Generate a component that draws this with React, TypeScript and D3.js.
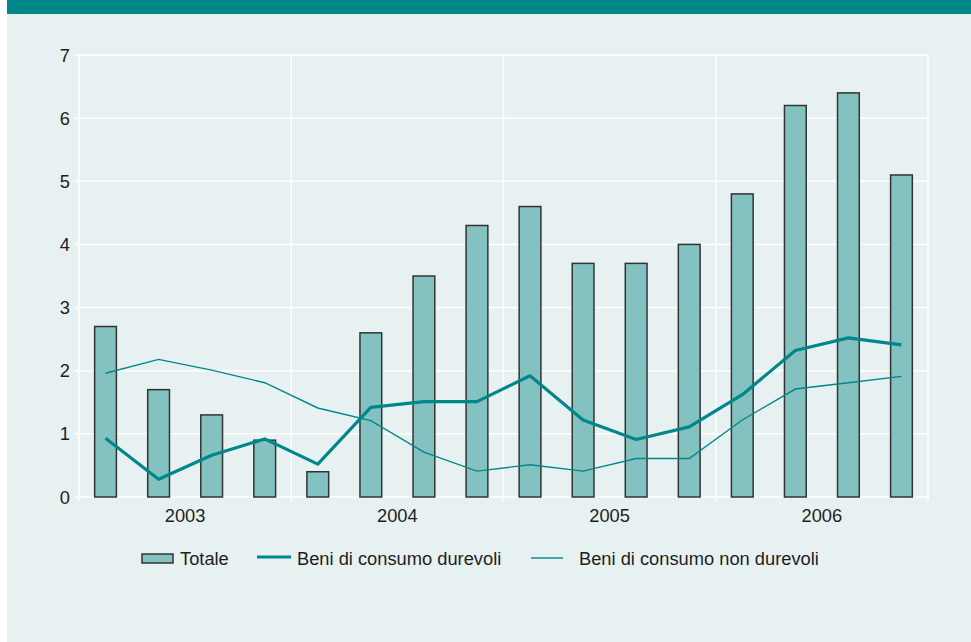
import React, { useEffect, useRef } from 'react';
import * as d3 from 'd3';

// quarters 2003 Q1 .. 2006 Q4
const years = ['2003', '2004', '2005', '2006'];
const quarters = d3.range(16).map((i) => `${years[Math.floor(i / 4)]}-Q${(i % 4) + 1}`);
const totale = [2.7, 1.7, 1.3, 0.9, 0.4, 2.6, 3.5, 4.3, 4.6, 3.7, 3.7, 4.0, 4.8, 6.2, 6.4, 5.1];
const durevoli = [0.93, 0.28, 0.66, 0.92, 0.52, 1.42, 1.51, 1.51, 1.92, 1.22, 0.91, 1.11, 1.62, 2.32, 2.52, 2.41];
const nonDurevoli = [1.96, 2.18, 2.01, 1.81, 1.41, 1.21, 0.71, 0.41, 0.51, 0.41, 0.61, 0.61, 1.22, 1.71, 1.81, 1.91];
const yTicks = [0, 1, 2, 3, 4, 5, 6, 7];
const legendLabels = ['Totale', 'Beni di consumo durevoli', 'Beni di consumo non durevoli'];

const W = 971;
const H = 642;
const TEAL = '#00878a';
const BAR = '#84c1c1';
const BG = '#e8f1f2';
const FONT = '"Liberation Sans", Arial, sans-serif';
const FS = 18.3;

export default function App() {
  const ref = useRef<SVGSVGElement>(null);

  useEffect(() => {
    const svg = d3.select(ref.current);
    svg.selectAll('*').remove();

    const m = { left: 79, right: 928, top: 55, bottom: 497 };

    svg.append('rect').attr('x', 7).attr('y', 0).attr('width', W - 7).attr('height', H).attr('fill', BG);
    svg.append('rect').attr('x', 7).attr('y', 0).attr('width', W - 7).attr('height', 14).attr('fill', TEAL);

    const x = d3.scaleBand<string>().domain(quarters).range([m.left, m.right]).padding(0);
    const xYear = d3.scaleBand<string>().domain(years).range([m.left, m.right]).padding(0);
    const y = d3.scaleLinear().domain([0, 7]).range([m.bottom, m.top]);
    const cx = (i: number) => (x(quarters[i]) as number) + x.bandwidth() / 2;

    // grid
    const grid = svg.append('g');
    grid.selectAll('line.h')
      .data(yTicks)
      .join('line')
      .attr('x1', m.left - 4)
      .attr('x2', m.right)
      .attr('y1', (d) => y(d))
      .attr('y2', (d) => y(d))
      .attr('stroke', '#ffffff')
      .attr('stroke-width', 1.5);
    const vx = years.map((yr) => xYear(yr) as number).concat([m.right]);
    grid.selectAll('line.v')
      .data(vx)
      .join('line')
      .attr('x1', (d) => d)
      .attr('x2', (d) => d)
      .attr('y1', m.top)
      .attr('y2', m.bottom + 4)
      .attr('stroke', '#ffffff')
      .attr('stroke-width', 1.5);

    // y labels
    svg.append('g')
      .selectAll('text')
      .data(yTicks)
      .join('text')
      .attr('x', 70)
      .attr('y', (d) => y(d) + 6.5)
      .attr('text-anchor', 'end')
      .attr('font-family', FONT)
      .attr('font-size', FS)
      .attr('fill', '#1e1e1e')
      .text((d) => d);

    // year labels
    svg.append('g')
      .selectAll('text')
      .data(years)
      .join('text')
      .attr('x', (d) => (xYear(d) as number) + xYear.bandwidth() / 2)
      .attr('y', 522)
      .attr('text-anchor', 'middle')
      .attr('font-family', FONT)
      .attr('font-size', FS)
      .attr('fill', '#1e1e1e')
      .text((d) => d);

    // bars
    const bw = x.bandwidth() * 0.41;
    svg.append('g')
      .selectAll('rect')
      .data(totale)
      .join('rect')
      .attr('x', (d, i) => cx(i) - bw / 2)
      .attr('y', (d) => y(d))
      .attr('width', bw)
      .attr('height', (d) => y(0) - y(d))
      .attr('fill', BAR)
      .attr('stroke', '#333')
      .attr('stroke-width', 1.5);

    const line = d3.line<number>()
      .x((d, i) => cx(i))
      .y((d) => y(d));

    svg.append('path')
      .datum(nonDurevoli)
      .attr('d', line)
      .attr('fill', 'none')
      .attr('stroke', TEAL)
      .attr('stroke-width', 1.4);

    svg.append('path')
      .datum(durevoli)
      .attr('d', line)
      .attr('fill', 'none')
      .attr('stroke', TEAL)
      .attr('stroke-width', 3.2)
      .attr('stroke-linejoin', 'round');

    // legend
    const lg = svg.append('g').attr('font-family', FONT).attr('font-size', FS).attr('fill', '#1e1e1e');
    lg.append('rect').attr('x', 142).attr('y', 554).attr('width', 31).attr('height', 9)
      .attr('fill', BAR).attr('stroke', '#333').attr('stroke-width', 1.5);
    lg.append('text').attr('x', 180).attr('y', 564.5).text(legendLabels[0]);
    lg.append('line').attr('x1', 257).attr('x2', 291).attr('y1', 557).attr('y2', 557)
      .attr('stroke', TEAL).attr('stroke-width', 3);
    lg.append('text').attr('x', 297).attr('y', 564.5).text(legendLabels[1]);
    lg.append('line').attr('x1', 531).attr('x2', 563).attr('y1', 558).attr('y2', 558)
      .attr('stroke', TEAL).attr('stroke-width', 1.4);
    lg.append('text').attr('x', 579).attr('y', 564.5).text(legendLabels[2]);
  }, []);

  return (
    <svg
      ref={ref}
      width={W}
      height={H}
      style={{ position: 'absolute', left: 0, top: 0, background: '#fff' }}
    />
  );
}
